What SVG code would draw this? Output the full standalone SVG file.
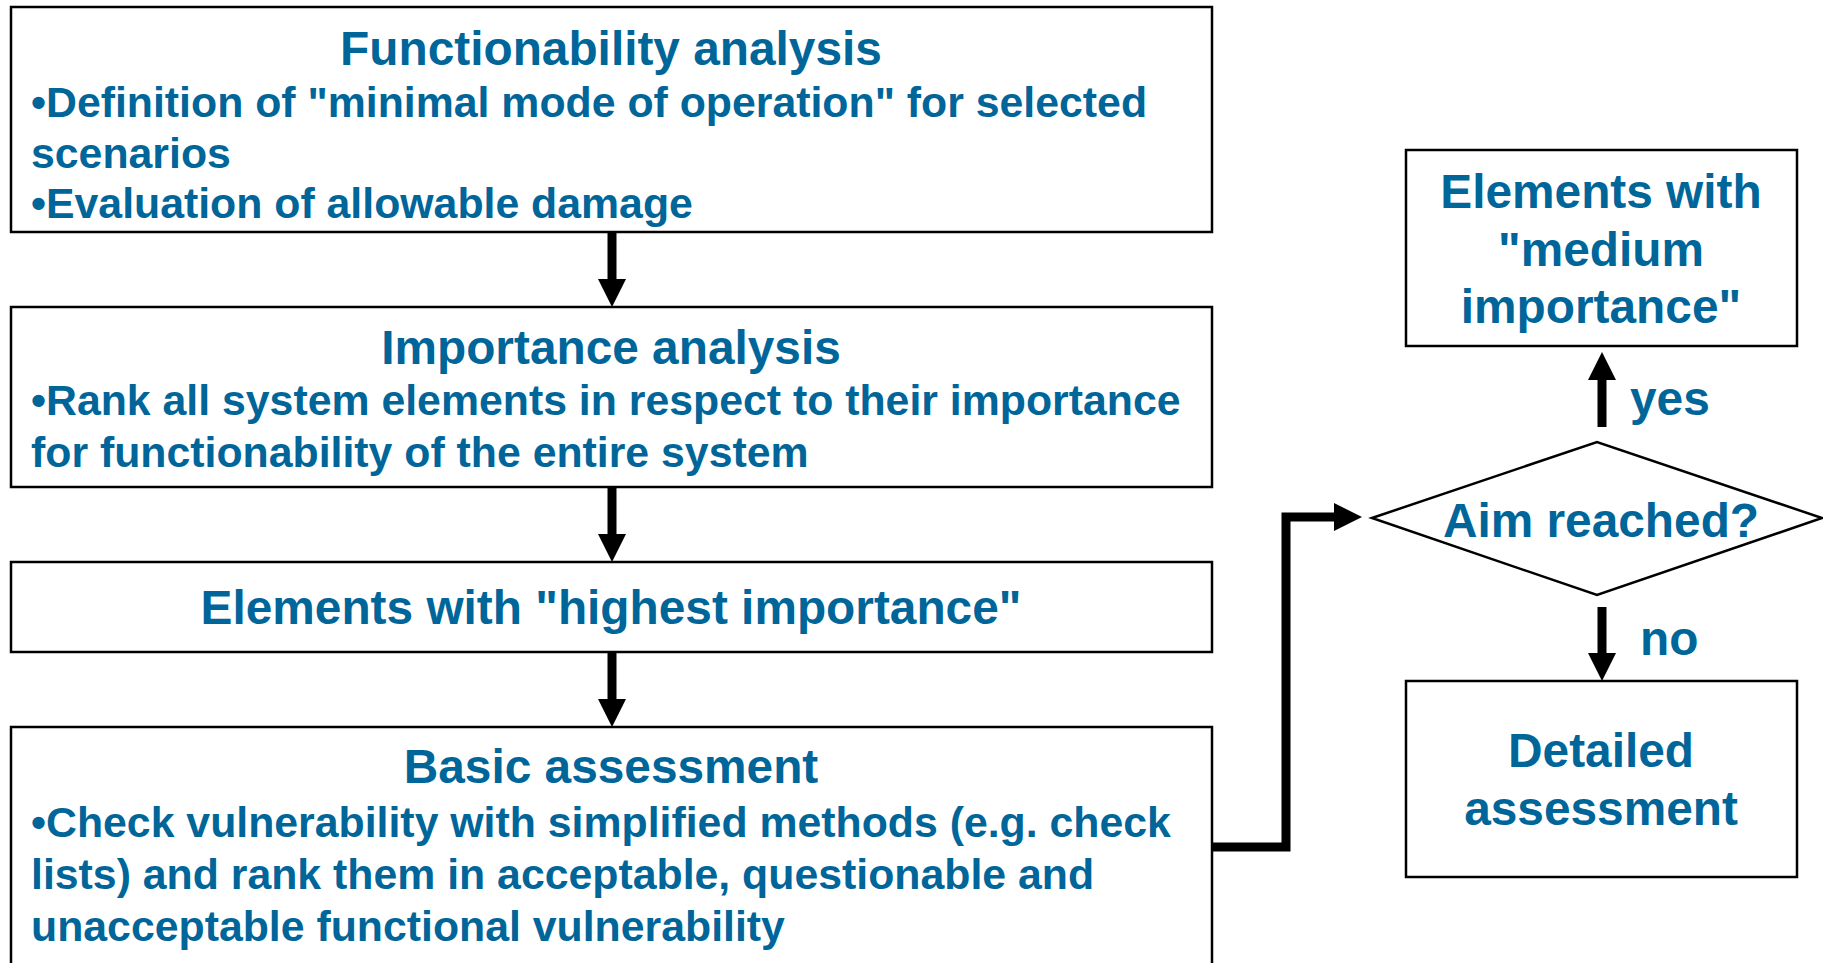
<svg xmlns="http://www.w3.org/2000/svg" width="1823" height="963" viewBox="0 0 1823 963">
<style>
.box{fill:#fff;stroke:#000;stroke-width:2.5}
.t{font-family:"Liberation Sans",Arial,sans-serif;font-weight:bold;fill:#00669a}
.h{font-size:47.8px;text-anchor:middle}
.b{font-size:42.8px}
.c{fill:none;stroke:#000;stroke-width:9;stroke-linejoin:miter}
</style>
<defs>
<marker id="ah" markerUnits="userSpaceOnUse" markerWidth="29" markerHeight="28" refX="0" refY="14" orient="auto" overflow="visible">
<path d="M0,0 L28,14 L0,28 Z" fill="#000"/>
</marker>
</defs>
<rect width="1823" height="963" fill="#fff"/>
<g id="functionability">
<rect class="box" x="11" y="7" width="1201" height="225"/>
<text class="t h" x="611" y="65">Functionability analysis</text>
<text class="t b" x="31" y="117">•Definition of "minimal mode of operation" for selected</text>
<text class="t b" x="31" y="168">scenarios</text>
<text class="t b" x="31" y="218">•Evaluation of allowable damage</text>
</g>
<g id="importance">
<rect class="box" x="11" y="307" width="1201" height="180"/>
<text class="t h" x="611" y="364">Importance analysis</text>
<text class="t b" x="31" y="415">•Rank all system elements in respect to their importance</text>
<text class="t b" x="31" y="467">for functionability of the entire system</text>
</g>
<g id="highest">
<rect class="box" x="11" y="562" width="1201" height="90"/>
<text class="t h" x="611" y="624">Elements with "highest importance"</text>
</g>
<g id="basic">
<rect class="box" x="11" y="727" width="1201" height="260"/>
<text class="t h" x="611" y="783">Basic assessment</text>
<text class="t b" x="31" y="837">•Check vulnerability with simplified methods (e.g. check</text>
<text class="t b" x="31" y="889">lists) and rank them in acceptable, questionable and</text>
<text class="t b" x="31" y="941">unacceptable functional vulnerability</text>
</g>
<g id="medium">
<rect class="box" x="1406" y="150" width="391" height="196"/>
<text class="t h" x="1601" y="208">Elements with</text>
<text class="t h" x="1601" y="266">"medium</text>
<text class="t h" x="1601" y="323">importance"</text>
</g>
<g id="aim">
<polygon class="box" points="1372,518 1597,442 1822,518 1597,595"/>
<text class="t h" x="1601" y="537">Aim reached?</text>
</g>
<g id="detailed">
<rect class="box" x="1406" y="681" width="391" height="196"/>
<text class="t h" x="1601" y="767">Detailed</text>
<text class="t h" x="1601" y="825">assessment</text>
</g>
<g id="connectors">
<line class="c" x1="612" y1="232" x2="612" y2="279" marker-end="url(#ah)"/>
<line class="c" x1="612" y1="487" x2="612" y2="534" marker-end="url(#ah)"/>
<line class="c" x1="612" y1="652" x2="612" y2="699" marker-end="url(#ah)"/>
<polyline class="c" points="1212,847 1286,847 1286,517 1334,517" marker-end="url(#ah)"/>
<line class="c" x1="1602" y1="427" x2="1602" y2="380" marker-end="url(#ah)"/>
<line class="c" x1="1602" y1="607" x2="1602" y2="653" marker-end="url(#ah)"/>
<text class="t" x="1630" y="415" font-size="47.8">yes</text>
<text class="t" x="1640" y="655" font-size="47.8">no</text>
</g>
</svg>
